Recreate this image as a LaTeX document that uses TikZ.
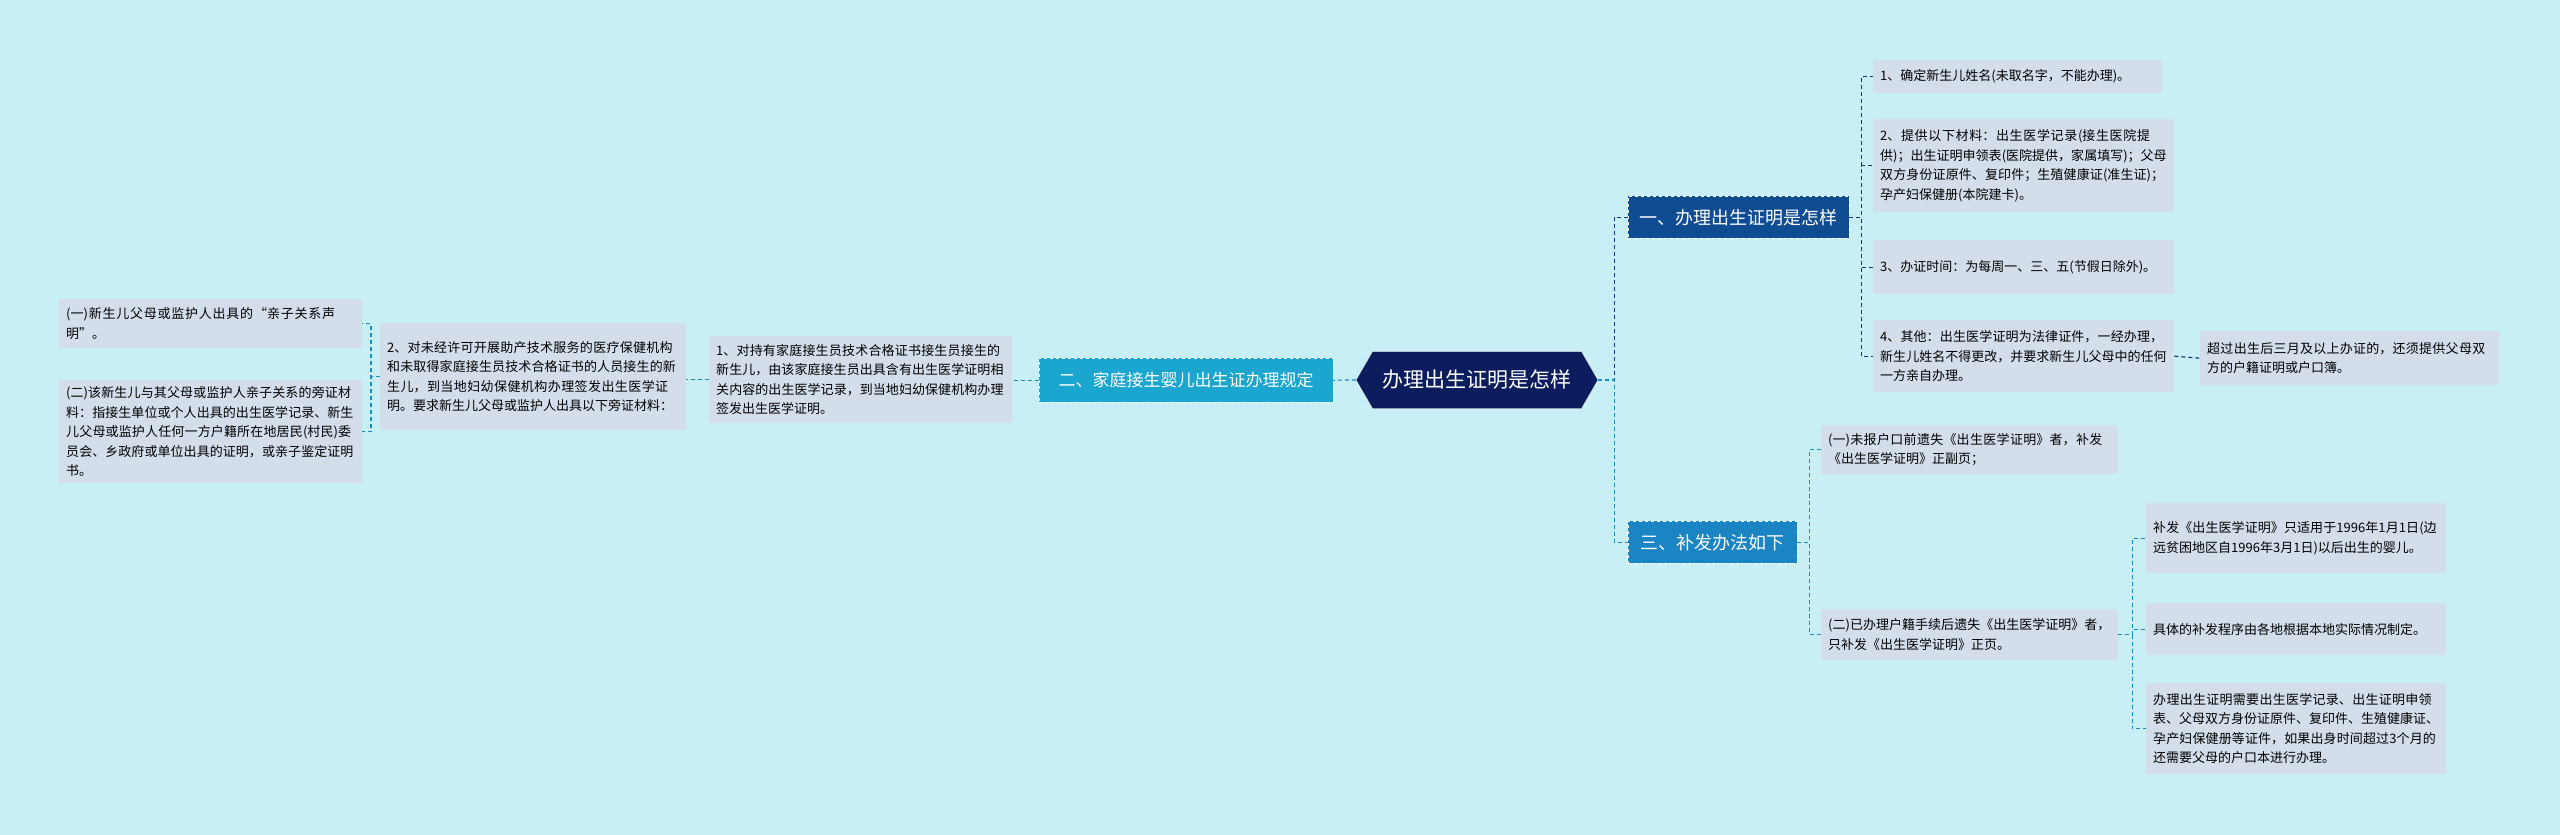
\documentclass[tikz,border=0pt]{standalone}
\usepackage{fontspec}
\setmainfont{Noto Sans CJK SC}
\XeTeXlinebreaklocale "zh"
\XeTeXlinebreakskip=0pt plus 1pt
\usetikzlibrary{shapes.symbols}
\definecolor{bg}{HTML}{C9EFF6}
\definecolor{leaf}{HTML}{D3DEEA}
\definecolor{navy}{HTML}{0B1D5C}
\definecolor{one}{HTML}{0F4C92}
\definecolor{three}{HTML}{1B84C2}
\definecolor{two}{HTML}{1BA6CF}
\definecolor{lnav}{HTML}{0D3A7A}
\definecolor{lteal}{HTML}{1A8FBF}
\tikzset{
 lf/.style={fill=leaf,anchor=north west,inner xsep=7pt,inner ysep=4pt,align=left,font=\fontsize{13}{19.5}\selectfont},
 mid/.style={anchor=north west,draw=white,dashed,text=white,inner xsep=8pt,font=\fontsize{18}{22}\selectfont},
 con/.style={dashed,line width=1.2pt,dash pattern=on 4pt off 3pt},
}
\begin{document}
\begin{tikzpicture}[x=1pt,y=-1pt]
\fill[bg] (0,0) rectangle (2560,835);
\useasboundingbox (0,0) rectangle (2560,835);
% center
\node[signal,signal to=west and east,signal pointer angle=120,fill=navy,draw=white,text=white,minimum width=242pt,minimum height=57pt,font=\fontsize{21}{24}\selectfont] (c) at (1477,380) {办理出生证明是怎样};
\node[mid,fill=two,minimum width=294pt,minimum height=44pt,font=\fontsize{17}{20}\selectfont] (n2) at (1039,358) {二、家庭接生婴儿出生证办理规定};
\node[mid,fill=one,minimum width=221pt,minimum height=42pt] (n1) at (1628,196) {一、办理出生证明是怎样};
\node[mid,fill=three,minimum width=169pt,minimum height=42pt] (n3) at (1628,521) {三、补发办法如下};
% leaves of 1
\node[lf,text width=275pt,minimum height=33pt] (a1) at (1873,60) {1、确定新生儿姓名(未取名字，不能办理)。};
\node[lf,text width=287pt,minimum height=93pt] (a2) at (1873,119) {2、提供以下材料：出生医学记录(接生医院提供)；出生证明申领表(医院提供，家属填写)；父母双方身份证原件、复印件；生殖健康证(准生证)；孕产妇保健册(本院建卡)。};
\node[lf,text width=287pt,minimum height=54pt] (a3) at (1873,240) {3、办证时间：为每周一、三、五(节假日除外)。};
\node[lf,text width=287pt,minimum height=72pt] (a4) at (1873,320) {4、其他：出生医学证明为法律证件，一经办理，新生儿姓名不得更改，并要求新生儿父母中的任何一方亲自办理。};
\node[lf,text width=285pt,minimum height=54pt] (a5) at (2200,331) {超过出生后三月及以上办证的，还须提供父母双方的户籍证明或户口簿。};
% 3
\node[lf,text width=283pt,minimum height=49pt] (b1) at (1821,425) {(一)未报户口前遗失《出生医学证明》者，补发《出生医学证明》正副页；};
\node[lf,text width=283pt,minimum height=51pt] (b2) at (1821,609) {(二)已办理户籍手续后遗失《出生医学证明》者，只补发《出生医学证明》正页。};
\node[lf,text width=286pt,minimum height=70pt] (c1) at (2146,503) {补发《出生医学证明》只适用于1996年1月1日(边远贫困地区自1996年3月1日)以后出生的婴儿。};
\node[lf,text width=286pt,minimum height=52pt] (c2) at (2146,603) {具体的补发程序由各地根据本地实际情况制定。};
\node[lf,text width=286pt,minimum height=91pt] (c3) at (2146,683) {办理出生证明需要出生医学记录、出生证明申领表、父母双方身份证原件、复印件、生殖健康证、孕产妇保健册等证件，如果出身时间超过3个月的还需要父母的户口本进行办理。};
% left
\node[lf,text width=289pt,minimum height=87pt] (d1) at (709,336) {1、对持有家庭接生员技术合格证书接生员接生的新生儿，由该家庭接生员出具含有出生医学证明相关内容的出生医学记录，到当地妇幼保健机构办理签发出生医学证明。};
\node[lf,text width=292pt,minimum height=107pt] (d2) at (380,323) {2、对未经许可开展助产技术服务的医疗保健机构和未取得家庭接生员技术合格证书的人员接生的新生儿，到当地妇幼保健机构办理签发出生医学证明。要求新生儿父母或监护人出具以下旁证材料：};
\node[lf,text width=289pt,minimum height=49pt] (e1) at (59,299) {(一)新生儿父母或监护人出具的“亲子关系声明”。};
\node[lf,text width=289pt,minimum height=103pt] (e2) at (59,380) {(二)该新生儿与其父母或监护人亲子关系的旁证材料：指接生单位或个人出具的出生医学记录、新生儿父母或监护人任何一方户籍所在地居民(村民)委员会、乡政府或单位出具的证明，或亲子鉴定证明书。};
% connectors
\draw[con,lnav] (c.east) -- ++(16,0) |- (n1.west);
\draw[con,lteal] (c.east) -- ++(16,0) |- (n3.west);
\foreach \t in {a1,a2,a3,a4} \draw[con,lnav] (n1.east) -- ++(12,0) |- (\t.west);
\draw[con,lnav] (a4.east) -- (a5.west);
\foreach \t in {b1,b2} \draw[con,lteal] (n3.east) -- ++(12,0) |- (\t.west);
\foreach \t in {c1,c2,c3} \draw[con,lteal] (b2.east) -- ++(14,0) |- (\t.west);
\draw[con,lteal] (c.west) -- (n2.east);
\draw[con,lteal] (n2.west) -- (d1.east |- n2.west);
\draw[con,lteal] (d1.west) -- (d2.east |- d1.west);
\foreach \t in {e1,e2} \draw[con,lteal] (d2.west) -- ++(-9,0) |- (\t.east);
\end{tikzpicture}
\end{document}
